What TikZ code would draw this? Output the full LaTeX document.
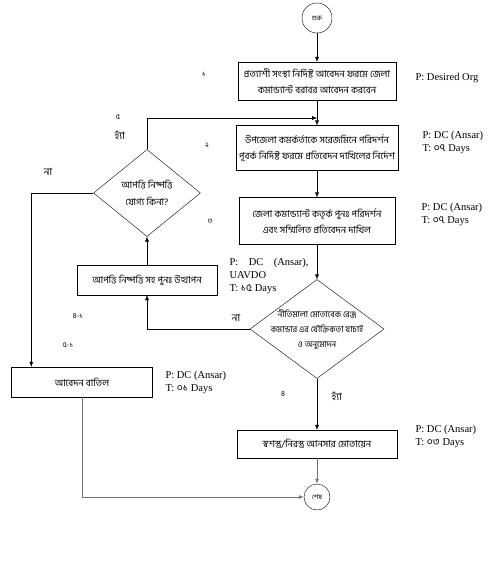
\documentclass[tikz,border=0pt]{standalone}
\usepackage{fontspec}
\setmainfont{Liberation Serif}
\newfontfamily\bn[Script=Bengali]{Hind Siliguri}
\usetikzlibrary{arrows.meta, positioning, shapes.geometric}

\begin{document}
\begin{tikzpicture}[
        x=1pt, y=-1pt,
        procbox/.style={
            draw,
            inner sep=0pt,
            align=center,
            font=\bn\fontsize{9.5}{16}\selectfont
        },
        decision/.style={
            draw,
            diamond,
            inner sep=0pt
        },
        terminal/.style={
            draw,
            circle,
            inner sep=0pt,
            font=\bn\fontsize{6.5}{7}\selectfont
        },
        sidenote/.style={anchor=west, align=left, font=\fontsize{10.5}{13}\selectfont},
        stepno/.style={font=\bn\fontsize{7.5}{8}\selectfont},
        branch/.style={font=\bn\fontsize{10}{11}\selectfont},
        flow/.style={-{Latex[length=5pt, width=4pt]}},
        lastflow/.style={-{Latex[length=5pt, width=4pt]}, draw=black!55, line width=0.9pt}
    ]
        \useasboundingbox (0,0) rectangle (489,562);

        % main column
        \node[terminal, minimum size=30pt] (start) at (317,18) {শুরু};
        \node[procbox, minimum width=158pt, minimum height=38pt] (apply) at (317,81)
            {প্রত্যাশী সংস্থা নির্দিষ্ট আবেদন ফরমে জেলা\\কমান্ড্যান্ট বরাবর আবেদন করবেন};
        \node[procbox, minimum width=162pt, minimum height=45pt] (order) at (317,148)
            {উপজেলা কমর্কর্তাকে সরেজমিনে পরিদর্শন\\পূবর্ক নির্দিষ্ট ফরমে প্রতিবেদন দাখিলের নির্দেশ};
        \node[procbox, minimum width=156pt, minimum height=47pt] (inspect) at (317,221)
            {জেলা কমান্ড্যান্ট কতৃর্ক পুনঃ পরিদর্শন\\এবং সম্মিলিত প্রতিবেদন দাখিল};
        \node[decision, minimum width=134pt, minimum height=99pt,
            label={[procbox, draw=none, font=\bn\fontsize{8.5}{15}\selectfont]center:{নীতিমালা মোতাবেক রেঞ্জ\\কমান্ডার এর যৌক্তিকতা যাচাই\\ও অনুমোদন}}]
            (approve) at (317,329) {};
        \node[procbox, minimum width=160pt, minimum height=28pt] (deploy) at (317,444)
            {স্বশস্ত্র/নিরস্ত্র আনসার মোতায়েন};
        \node[terminal, minimum size=26pt] (finish) at (317,497) {শেষ};

        % left column
        \node[procbox, minimum width=140pt, minimum height=30pt] (resubmit) at (147,280)
            {আপত্তি নিষ্পত্তি সহ পুনঃ উত্থাপন};
        \node[decision, minimum width=107pt, minimum height=87pt,
            label={[procbox, draw=none, font=\bn\fontsize{9.5}{17}\selectfont]center:{আপত্তি নিষ্পত্তি\\যোগ্য কিনা?}}]
            (settle) at (147,193) {};
        \node[procbox, minimum width=141pt, minimum height=30pt] (reject) at (82,382)
            {আবেদন বাতিল};
        \coordinate (merge) at (317,118);

        % step numbers
        \node[stepno] (n1) at (204,74) {১};
        \node[stepno] (n2) at (207,145) {২};
        \node[stepno] (n3) at (210,221) {৩};
        \node[stepno] (n5) at (118,117) {৫};
        \node[stepno] (n41) at (78,316) {৪-১};
        \node[stepno] (n51) at (68,345) {৫-১};
        \node[stepno] (n4) at (283,394) {৪};

        % responsibility and time
        \node[sidenote] (p1) at (412,78) {P: Desired Org};
        \node[sidenote] (p2) at (419,142) {P: DC (Ansar)\\T: {\bn ০৭} Days};
        \node[sidenote] (p3) at (418,214) {P: DC (Ansar)\\T: {\bn ০৭} Days};
        \node[sidenote] (p4) at (226,276) {P:\quad DC\quad (Ansar),\\UAVDO\\T: {\bn ১৫} Days};
        \node[sidenote] (p5) at (162,382) {P: DC (Ansar)\\T: {\bn ০১} Days};
        \node[sidenote] (p6) at (412,436) {P: DC (Ansar)\\T: {\bn ০৩} Days};

        % connectors
        \draw[flow] (start) -- (apply);
        \draw[flow] (apply) -- (order);
        \draw[flow] (order) -- (inspect);
        \draw[flow] (inspect) -- (approve);
        \draw[flow] (approve) -- (deploy);
        \node[branch] (yes1) at (337,396) {হ্যাঁ};
        \draw[flow] (approve.west) -| (resubmit.south);
        \node[branch] (no1) at (236,318) {না};
        \draw[flow] (resubmit) -- (settle);
        \draw[flow] (settle.north) |- (merge);
        \node[branch] (yes2) at (120,135) {হ্যাঁ};
        \draw[flow] (settle.west) -| ([xshift=20pt]reject.north west);
        \node[branch] (no2) at (48,172) {না};
        \draw[lastflow] (deploy) -- (finish);
        \draw[lastflow] (reject.south) |- (finish.west);
    \end{tikzpicture}
\end{document}
